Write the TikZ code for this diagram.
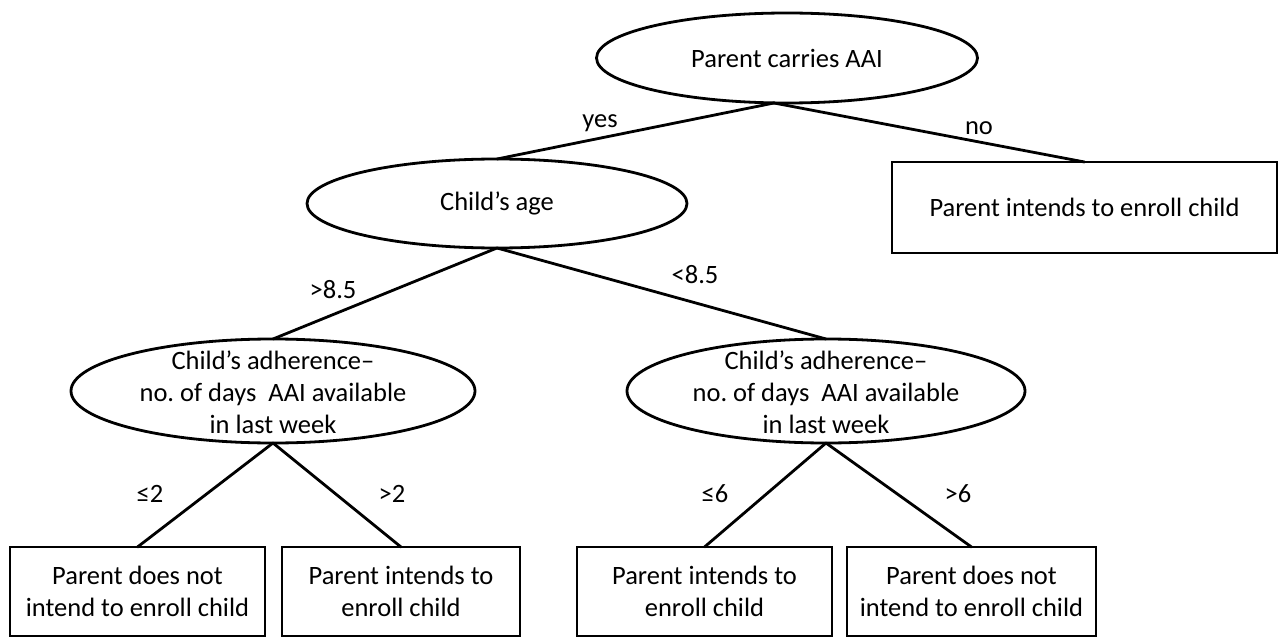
\documentclass[tikz,border=0pt]{standalone}
\usepackage{fontspec}
\setmainfont{Carlito}
\frenchspacing
\usetikzlibrary{shapes.geometric}
\begin{document}
\begin{tikzpicture}[x=1pt,y=-1pt,
  lw/.style={line width=2.8pt},
  oval/.style={draw,lw,ellipse,inner sep=0pt,outer sep=0pt},
  leaf/.style={draw,lw,rectangle,inner sep=0pt,outer sep=0pt,align=center,
    font=\fontsize{26.5}{32}\selectfont},
  edge/.style={lw,line cap=round},
  lbl/.style={anchor=base,inner sep=0pt,font=\fontsize{26.5}{32}\selectfont},
  otext/.style={align=center,font=\fontsize{26.5}{32}\selectfont}]
\useasboundingbox (0,0) rectangle (1282,639);
% decision ovals
\node[oval,minimum width=381pt,minimum height=90pt,
  label={[otext]center:Parent carries AAI}] (top) at (787,58) {};
\node[oval,minimum width=380pt,minimum height=89pt,
  label={[otext]center:Child’s age}] (age) at (497,203.5) {};
\node[oval,minimum width=404pt,minimum height=104pt,
  label={[otext,yshift=-1pt]center:Child’s adherence–\\no. of days\ \ AAI available\\in last week}] (adhL) at (273,391) {};
\node[oval,minimum width=398pt,minimum height=104pt,
  label={[otext,yshift=-1pt]center:Child’s adherence–\\no. of days\ \ AAI available\\in last week}] (adhR) at (826,391) {};
\coordinate (topfork) at ([xshift=-13pt]top.south);
% leaves
\node[leaf,minimum width=385pt,minimum height=91pt] (no) at (1084.5,207.5) {Parent intends to enroll child};
\node[leaf,minimum width=255pt,minimum height=89pt] (b1) at (137.5,591.5) {Parent does not\\intend to enroll child};
\node[leaf,minimum width=238pt,minimum height=89pt] (b2) at (401,591.5) {Parent intends to\\enroll child};
\node[leaf,minimum width=255pt,minimum height=89pt] (b3) at (704.5,591.5) {Parent intends to\\enroll child};
\node[leaf,minimum width=249pt,minimum height=89pt] (b4) at (971.5,591.5) {Parent does not\\intend to enroll child};
% connectors
\draw[edge] (topfork) -- (age.north);
\draw[edge] (topfork) -- (no.north);
\draw[edge] (age.south) -- (adhL.north);
\draw[edge] (age.south) -- (adhR.north);
\draw[edge] (adhL.south) -- (b1.north);
\draw[edge] (adhL.south) -- (b2.north);
\draw[edge] (adhR.south) -- (b3.north);
\draw[edge] (adhR.south) -- (b4.north);
% edge labels
\node[lbl] (lyes) at (600,128) {yes};
\node[lbl] (lno) at (979,135) {no};
\node[lbl] (lgt85) at (333,298) {>8.5};
\node[lbl] (llt85) at (695,283) {<8.5};
\node[lbl] (lle2) at (150,502) {≤2};
\node[lbl] (lgt2) at (392,502) {>2};
\node[lbl] (lle6) at (715,502) {≤6};
\node[lbl] (lgt6) at (958,502) {>6};
\end{tikzpicture}
\end{document}
